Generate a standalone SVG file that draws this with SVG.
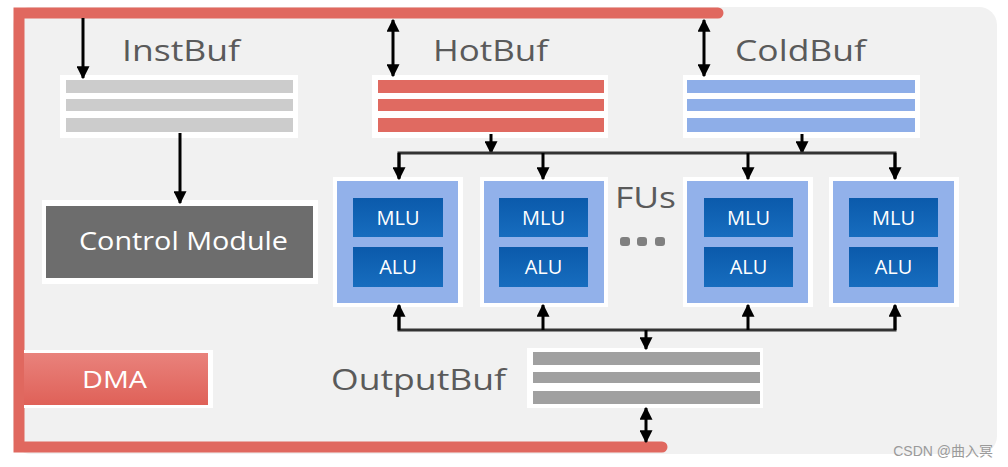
<svg xmlns="http://www.w3.org/2000/svg" width="1008" height="467" viewBox="0 0 1008 467">
<defs>
<marker id="ah" viewBox="0 0 10 10" refX="9" refY="5" markerWidth="13" markerHeight="13" markerUnits="userSpaceOnUse" orient="auto-start-reverse">
<path d="M0,0 L10,5 L0,10 z" fill="#000"/>
</marker>
<linearGradient id="dmaG" x1="0" y1="0" x2="0" y2="1">
<stop offset="0" stop-color="#e9827c"/><stop offset="1" stop-color="#df6158"/>
</linearGradient>
<linearGradient id="uG" x1="0" y1="0" x2="0" y2="1">
<stop offset="0" stop-color="#0b5aab"/><stop offset="1" stop-color="#176dbf"/>
</linearGradient>
</defs>
<style>
.title{font-family:"Open Sans","Noto Sans",sans-serif;font-size:30px;fill:#5a5a5a}
.wt{font-family:"Open Sans","Noto Sans",sans-serif;fill:#ffffff}
.ut{font-family:"Open Sans","Noto Sans",sans-serif;font-size:20px;fill:#ffffff;text-anchor:middle}
.red{stroke:#e0685f;stroke-width:11;fill:none;stroke-linecap:round}
.wbox{fill:#ffffff}
.ar{stroke:#000;stroke-width:3;fill:none}
.bus{stroke:#333;stroke-width:3;fill:none}
.fu{fill:#92b1ea}
.u{fill:url(#uG)}
</style>
<rect x="0" y="0" width="1008" height="467" fill="#ffffff"/>
<rect x="13" y="7" width="984" height="447" rx="18" fill="#f1f1f1"/>

<g id="bus-dma">
<path class="red" d="M718,13 L19,13 L19,447 L662,447"/>
</g>

<g id="instbuf">
<text class="title" x="122" y="61" textLength="118" lengthAdjust="spacingAndGlyphs">InstBuf</text>
<rect class="wbox" x="60" y="75" width="238" height="63"/>
<rect x="66" y="80" width="227" height="13" fill="#cccccc"/>
<rect x="66" y="99" width="227" height="12" fill="#cccccc"/>
<rect x="66" y="118" width="227" height="14" fill="#cccccc"/>
</g>

<g id="hotbuf">
<text class="title" x="433" y="61" textLength="115" lengthAdjust="spacingAndGlyphs">HotBuf</text>
<rect class="wbox" x="372" y="75" width="236" height="63"/>
<rect x="378" y="80" width="226" height="13" fill="#e06a61"/>
<rect x="378" y="99" width="226" height="12" fill="#e06a61"/>
<rect x="378" y="118" width="226" height="14" fill="#e06a61"/>
</g>

<g id="coldbuf">
<text class="title" x="735" y="61" textLength="131" lengthAdjust="spacingAndGlyphs">ColdBuf</text>
<rect class="wbox" x="683" y="75" width="237" height="63"/>
<rect x="687" y="80" width="228" height="13" fill="#8eaee8"/>
<rect x="687" y="99" width="228" height="12" fill="#8eaee8"/>
<rect x="687" y="118" width="228" height="14" fill="#8eaee8"/>
</g>

<g id="control">
<rect class="wbox" x="42" y="200" width="276" height="84"/>
<rect x="46" y="206" width="267" height="72" fill="#6d6d6d"/>
<text class="wt" x="79" y="250" font-size="26" textLength="209" lengthAdjust="spacingAndGlyphs" fill="#f2f2f2">Control Module</text>
</g>

<g id="dma">
<rect class="wbox" x="24" y="350" width="189" height="58"/>
<rect x="24" y="353" width="184" height="52" fill="url(#dmaG)"/>
<text class="wt" x="82" y="388" font-size="24" textLength="65" lengthAdjust="spacingAndGlyphs">DMA</text>
</g>

<g id="fu1">
<rect class="wbox" x="333" y="177" width="130" height="130"/>
<rect class="fu" x="337" y="181" width="121" height="122"/>
<rect class="u" x="353" y="198" width="90" height="39"/>
<rect class="u" x="353" y="247" width="90" height="40"/>
<text class="ut" x="398" y="225">MLU</text>
<text class="ut" x="398" y="274">ALU</text>
</g>
<g id="fu2">
<rect class="wbox" x="480" y="177" width="128" height="130"/>
<rect class="fu" x="484" y="181" width="120" height="122"/>
<rect class="u" x="499" y="198" width="89" height="39"/>
<rect class="u" x="499" y="247" width="89" height="40"/>
<text class="ut" x="543.5" y="225">MLU</text>
<text class="ut" x="543.5" y="274">ALU</text>
</g>
<g id="fu3">
<rect class="wbox" x="683" y="177" width="130" height="130"/>
<rect class="fu" x="687" y="181" width="121" height="122"/>
<rect class="u" x="704" y="198" width="89" height="39"/>
<rect class="u" x="704" y="247" width="89" height="40"/>
<text class="ut" x="748.5" y="225">MLU</text>
<text class="ut" x="748.5" y="274">ALU</text>
</g>
<g id="fu4">
<rect class="wbox" x="829" y="177" width="130" height="130"/>
<rect class="fu" x="833" y="181" width="121" height="122"/>
<rect class="u" x="849" y="198" width="89" height="39"/>
<rect class="u" x="849" y="247" width="89" height="40"/>
<text class="ut" x="893.5" y="225">MLU</text>
<text class="ut" x="893.5" y="274">ALU</text>
</g>

<g id="fus-label">
<text class="title" x="615" y="208" textLength="61" lengthAdjust="spacingAndGlyphs">FUs</text>
<rect x="620" y="237" width="10" height="9" rx="3" fill="#808080"/>
<rect x="637" y="237" width="10" height="9" rx="3" fill="#808080"/>
<rect x="655" y="237" width="10" height="9" rx="3" fill="#808080"/>
</g>

<g id="outputbuf">
<text class="title" x="331" y="390" textLength="175" lengthAdjust="spacingAndGlyphs">OutputBuf</text>
<rect class="wbox" x="527" y="348" width="236" height="60"/>
<rect x="533" y="352" width="227" height="13" fill="#a0a0a0"/>
<rect x="533" y="372" width="227" height="11" fill="#a0a0a0"/>
<rect x="533" y="391" width="227" height="13" fill="#a0a0a0"/>
</g>

<g id="connectors">
<line class="ar" x1="83" y1="18" x2="83" y2="78" marker-end="url(#ah)"/>
<line class="ar" x1="393" y1="20" x2="393" y2="76" marker-start="url(#ah)" marker-end="url(#ah)"/>
<line class="ar" x1="704" y1="20" x2="704" y2="76" marker-start="url(#ah)" marker-end="url(#ah)"/>
<line class="ar" x1="180" y1="133" x2="180" y2="203" marker-end="url(#ah)"/>
<line class="ar" x1="491" y1="134" x2="491" y2="153" marker-end="url(#ah)"/>
<line class="ar" x1="802" y1="134" x2="802" y2="153" marker-end="url(#ah)"/>
<polyline class="bus" points="399,178 399,153 895,153 895,178"/>
<line class="ar" x1="399" y1="153" x2="399" y2="179" marker-end="url(#ah)"/>
<line class="ar" x1="543" y1="153" x2="543" y2="179" marker-end="url(#ah)"/>
<line class="ar" x1="748" y1="153" x2="748" y2="179" marker-end="url(#ah)"/>
<line class="ar" x1="895" y1="153" x2="895" y2="179" marker-end="url(#ah)"/>
<polyline class="bus" points="399,306 399,330 895,330 895,306"/>
<line class="ar" x1="399" y1="330" x2="399" y2="305" marker-end="url(#ah)"/>
<line class="ar" x1="543" y1="330" x2="543" y2="305" marker-end="url(#ah)"/>
<line class="ar" x1="748" y1="330" x2="748" y2="305" marker-end="url(#ah)"/>
<line class="ar" x1="895" y1="330" x2="895" y2="305" marker-end="url(#ah)"/>
<line class="ar" x1="646" y1="330" x2="646" y2="349" marker-end="url(#ah)"/>
<line class="ar" x1="646" y1="408" x2="646" y2="442" marker-start="url(#ah)" marker-end="url(#ah)"/>
</g>

<text x="993" y="456" text-anchor="end" font-family="'Liberation Sans','Noto Sans CJK SC',sans-serif" font-size="14" fill="#9a9a9a">CSDN @曲入冥</text>
</svg>
